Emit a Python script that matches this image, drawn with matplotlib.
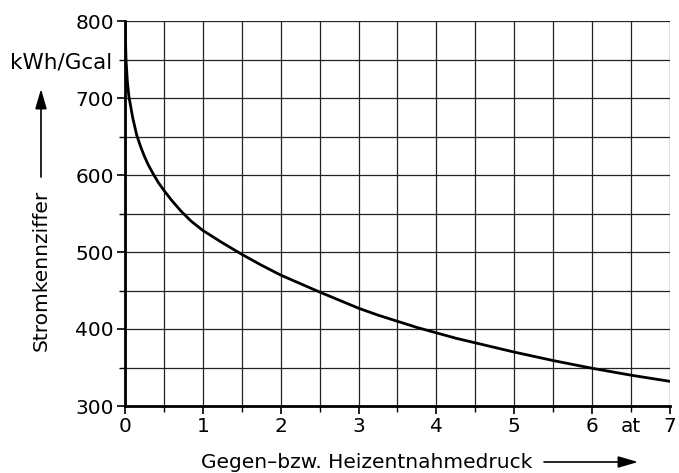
import matplotlib
matplotlib.use("Agg")
import matplotlib.pyplot as plt
from matplotlib.ticker import MultipleLocator
from matplotlib.transforms import offset_copy

# Data
pressure = [0.0, 0.013, 0.03, 0.05, 0.1, 0.15, 0.2, 0.25, 0.3, 0.37, 0.43, 0.5, 0.6, 0.72, 0.85, 1.0,
            1.25, 1.5, 1.75, 2.0, 2.25, 2.5, 2.75, 3.0, 3.25, 3.5, 3.75, 4.0, 4.25, 4.5, 4.75,
            5.0, 5.25, 5.5, 5.75, 6.0, 6.25, 6.5, 6.75, 7.0]
kennziffer = [800, 750, 722, 702, 674, 652, 637, 624, 613, 600, 590, 580, 567, 553, 540, 528,
              512, 497, 483, 470, 459, 448, 437.5, 427, 418, 410, 402, 395, 388, 382, 376,
              370, 364.5, 359, 354, 349, 344.5, 340, 336, 332]
x_ticks = [0, 1, 2, 3, 4, 5, 6, 7]
x_tick_labels = ["0", "1", "2", "3", "4", "5", "6", "7"]
y_ticks = [300, 400, 500, 600, 700, 800]
y_tick_labels = ["300", "400", "500", "600", "700", "800"]

plt.rcParams['font.family'] = ['DejaVu Sans']

fig = plt.figure(figsize=(6.79, 4.73), dpi=100)
ax = fig.add_axes([125/679, 1-406/473, (670-125)/679, (406-21)/473])

ax.plot(pressure, kennziffer, color="black", lw=2.0, solid_joinstyle="round", zorder=3)

ax.set_xlim(0, 7)
ax.set_ylim(300, 800)
ax.set_xticks(x_ticks)
ax.set_xticklabels(x_tick_labels)
ax.set_yticks(y_ticks)
ax.set_yticklabels(y_tick_labels)
ax.xaxis.set_minor_locator(MultipleLocator(0.5))
ax.yaxis.set_minor_locator(MultipleLocator(50))
ax.grid(True, which="both", color="#222222", lw=0.9)
ax.set_axisbelow(True)

for s in ["top", "right"]:
    ax.spines[s].set_visible(False)
for s in ["left", "bottom"]:
    ax.spines[s].set_linewidth(2.0)
    ax.spines[s].set_zorder(4)

FS = 14.5
ax.tick_params(axis="both", which="major", direction="out", length=6, width=1.2, labelsize=FS, pad=2)
ax.tick_params(axis="both", which="minor", direction="out", length=4, width=1.0)

# unit labels
at_tr = offset_copy(ax.get_xaxis_transform(), fig=fig, y=-(6 + 2 + 0.73 * FS), units="points")
ax.text(6.5, 0, "at", transform=at_tr, ha="center", va="baseline", fontsize=FS)
fig.text(112/679, 1-62/473, "kWh/Gcal", ha="right", va="center", fontsize=15.5)

# axis titles with arrows
arrow = dict(arrowstyle="-|>,head_length=1.2,head_width=0.35", color="black", lw=1.2, shrinkA=0, shrinkB=0)
fig.text(41/679, 1-270/473, "Stromkennziffer", rotation=90, ha="center", va="center", fontsize=FS)
ax.annotate("", xy=(41/679, 1-89/473), xytext=(41/679, 1-177/473), xycoords="figure fraction",
            textcoords="figure fraction", arrowprops=arrow, annotation_clip=False)
fig.text(367/679, 1-462/473, "Gegen–bzw. Heizentnahmedruck", ha="center", va="center", fontsize=FS)
ax.annotate("", xy=(638/679, 1-462/473), xytext=(544/679, 1-462/473), xycoords="figure fraction",
            textcoords="figure fraction", arrowprops=arrow, annotation_clip=False)

fig.savefig("out.png", dpi=100)
